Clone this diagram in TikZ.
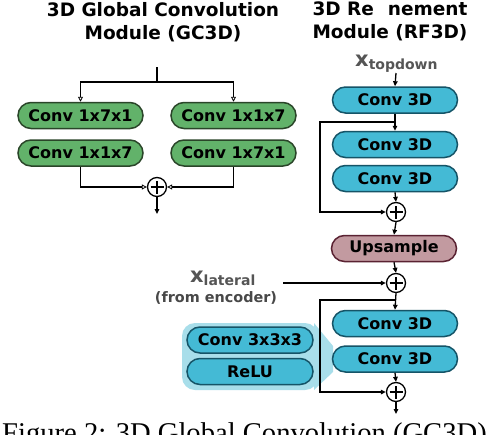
\documentclass[tikz,border=0pt]{standalone}
\usepackage{fontspec}
\setmainfont{DejaVu Sans}
\newfontfamily\capfont{Liberation Serif}
\usetikzlibrary{shapes.misc,arrows.meta}
\definecolor{gfill}{HTML}{62B26A}
\definecolor{gline}{HTML}{2A4529}
\definecolor{cfill}{HTML}{44BAD5}
\definecolor{cline}{HTML}{155467}
\definecolor{mfill}{HTML}{C29AA0}
\definecolor{mline}{HTML}{5A2232}
\definecolor{callout}{HTML}{A8DEEA}
\definecolor{labgray}{HTML}{555555}
\tikzset{
  pill/.style={rounded rectangle, draw, line width=1.5pt, minimum width=125pt, minimum height=26pt, inner sep=0pt,
    font=\fontsize{16}{18}\selectfont\bfseries},
  gbox/.style={pill, fill=gfill, draw=gline},
  cbox/.style={pill, fill=cfill, draw=cline},
  mbox/.style={pill, fill=mfill, draw=mline},
  title/.style={font=\fontsize{18.5}{23}\selectfont\bfseries, align=center, inner sep=0pt},
  plusnode/.style={circle, draw, line width=1.3pt, minimum size=19pt, inner sep=0pt,
    path picture={\draw[line width=1.3pt] ([xshift=-6.5pt]path picture bounding box.center) -- ([xshift=6.5pt]path picture bounding box.center);
                  \draw[line width=1.3pt] ([yshift=-6.5pt]path picture bounding box.center) -- ([yshift=6.5pt]path picture bounding box.center);}},
  conn/.style={line width=1.3pt},
  oarr/.style={conn, -{Triangle[open,length=5pt,width=5pt,line width=0.8pt]}},
  farr/.style={conn, -{Triangle[length=5pt,width=4.5pt]}},
}
\begin{document}
\begin{tikzpicture}[x=1pt,y=-1pt]
\useasboundingbox (0,0) rectangle (490,434);
\fill[white] (0,0) rectangle (490,434);

% titles
\node[title] (t1) at (163,22) {3D Global Convolution\\Module (GC3D)};
\node[title] (t2) at (390,21) {3D Re\hspace{0.75em}nement\\Module (RF3D)};

% GC3D
\node[gbox] (g1) at (80.5,115.5) {Conv 1x7x1};
\node[gbox] (g2) at (80.5,153) {Conv 1x1x7};
\node[gbox] (g3) at (233.5,115.5) {Conv 1x1x7};
\node[gbox] (g4) at (233.5,153) {Conv 1x7x1};
\coordinate (gtop) at (157,67);
\coordinate (gsplit) at (157,82);
\draw[conn] (gtop) -- (gsplit);
\draw[oarr] (gsplit) -| (g1.north);
\draw[oarr] (gsplit) -| (g3.north);
\node[plusnode] (gp) at (157,187) {};
\draw[oarr] (g2.south) |- (gp.west);
\draw[oarr] (g4.south) |- (gp.east);
\coordinate (gout) at (157,214);
\draw[farr] (gp.south) -- (gout);

% RF3D
\node[inner sep=0pt, text=labgray, anchor=base west] (xtd) at (355,66)
  {\fontsize{21}{21}\selectfont\bfseries x\raisebox{-3.5pt}{\fontsize{14}{14}\selectfont topdown}};
\coordinate (tin) at (396,73);
\node[cbox] (c1) at (395,100) {Conv 3D};
\node[cbox] (c2) at (395,144.5) {Conv 3D};
\node[cbox] (c3) at (395,178.5) {Conv 3D};
\draw[farr] (tin) -- (c1.north);
\draw[farr] (c1.south) -- (c2.north);
\node[plusnode] (p1) at (396,212) {};
\coordinate (j1) at (396,122);
\coordinate (l1) at (320,122);
\draw[farr] (j1) -- (l1) |- (p1.west);
\draw[farr] (c3.south) -- (p1.north);
\node[mbox] (up) at (394,248.5) {Upsample};
\draw[farr] (p1.south) -- (up.north);
\node[plusnode] (p2) at (396,283) {};
\draw[farr] (up.south) -- (p2.north);

\node[inner sep=0pt, text=labgray, anchor=base west] (xl) at (190,282)
  {\fontsize{21}{21}\selectfont\bfseries x\raisebox{-3pt}{\fontsize{14}{14}\selectfont lateral}};
\node[inner sep=0pt, text=labgray!85!black, font=\fontsize{14.4}{16}\selectfont\bfseries] (fe) at (216,298) {(from encoder)};
\coordinate (lat) at (283,283);
\draw[farr] (lat) -- (p2.west);

% callout
\fill[callout, rounded corners=13pt] (182,323) rectangle (318,390);
\fill[callout] (314,323) -- (333,346) -- (333,372) -- (314,390) -- cycle;
\node[cbox, minimum width=126pt] (k1) at (250,340) {Conv 3x3x3};
\node[cbox, minimum width=126pt] (k2) at (250,371.5) {ReLU};

\node[cbox] (c4) at (395,323.5) {Conv 3D};
\node[cbox] (c5) at (395,359) {Conv 3D};
\draw[farr] (p2.south) -- (c4.north);
\node[plusnode] (p3) at (396,392) {};
\coordinate (j2) at (396,300);
\coordinate (l2) at (320,300);
\draw[farr] (j2) -- (l2) |- (p3.west);
\draw[farr] (c5.south) -- (p3.north);
\coordinate (rout) at (396,414);
\draw[farr] (p3.south) -- (rout);

% caption (cut off at bottom, as in the reference)
\begin{scope}
\clip (0,0) rectangle (490,434);
\node[inner sep=0pt, anchor=base west, font=\capfont\fontsize{28.6}{30}\selectfont] (cap) at (2,442) {Figure 2: 3D Global Convolution (GC3D)};
\end{scope}
\end{tikzpicture}
\end{document}
